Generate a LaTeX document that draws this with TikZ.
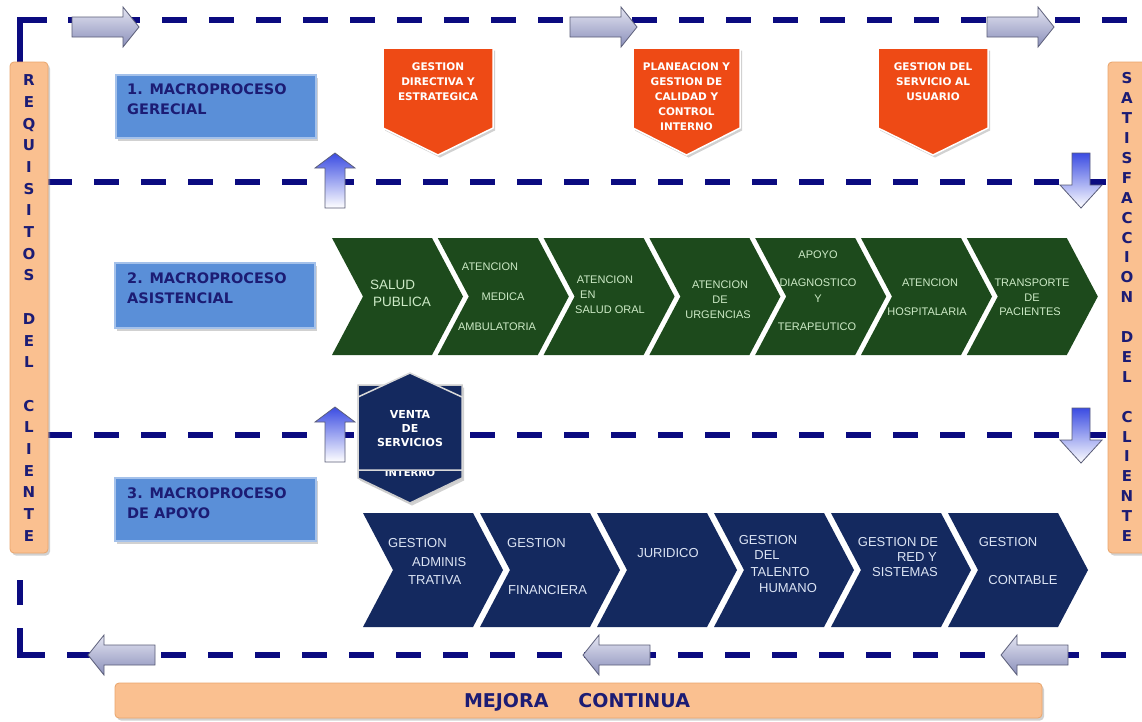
\documentclass[tikz,border=0pt]{standalone}
\usepackage{fontspec}
\setmainfont{DejaVu Sans}
\newfontfamily\chevfont{Liberation Sans}
\usetikzlibrary{shadows}
\definecolor{dashnavy}{HTML}{0B0B80}
\definecolor{peach}{HTML}{FAC090}
\definecolor{peachedge}{HTML}{E9A56C}
\definecolor{macroblue}{HTML}{5A8FD8}
\definecolor{macroedge}{HTML}{A4C1EA}
\definecolor{labelnavy}{HTML}{1C1C74}
\definecolor{orangered}{HTML}{EE4A15}
\definecolor{chevgreen}{HTML}{1D4A1C}
\definecolor{gtextc}{HTML}{CDEAC6}
\definecolor{chevnavy}{HTML}{14295F}
\definecolor{ntextc}{HTML}{DCE4F4}
\definecolor{arrtop}{HTML}{E4E5F2}
\definecolor{arrbot}{HTML}{8A8FBA}
\definecolor{arredge}{HTML}{5A5D78}
\definecolor{vblue}{HTML}{3B4CE2}
\begin{document}
\begin{tikzpicture}[x=1pt,y=-1pt,
  dashline/.style={draw=dashnavy, line width=5.5pt, dash pattern=on 25pt off 22pt},
  solidline/.style={draw=dashnavy, line width=5.5pt},
  softshadow/.style={drop shadow={shadow xshift=2pt, shadow yshift=-2.5pt, fill=black!40, opacity=0.45}},
  peachbar/.style={fill=peach, draw=peachedge, line width=0.8pt, rounded corners=4pt, softshadow},
  macrobox/.style={fill=macroblue, draw=macroedge, line width=1.5pt, softshadow},
  macrotext/.style={anchor=north west, inner sep=0pt, align=left, text=labelnavy, font=\bfseries\fontsize{14.5}{20}\selectfont},
  barletters/.style={anchor=north, inner sep=0pt, align=center, text=labelnavy},
  signpost/.style={fill=orangered, draw=white, line width=1.5pt, softshadow},
  signtext/.style={anchor=north, inner sep=0pt, align=center, text=white, font=\bfseries\fontsize{10.5}{15}\selectfont},
  gtext/.style={inner sep=0pt, text=gtextc, font=\chevfont\fontsize{11}{13}\selectfont},
  ntext/.style={inner sep=0pt, text=ntextc, font=\chevfont\fontsize{13}{15}\selectfont},
  harrow/.style={draw=arredge, line width=0.8pt, top color=arrtop, bottom color=arrbot},
  varrow/.style={draw=arredge, line width=0.8pt, top color=vblue, bottom color=white},
  rarrow/.pic={\path[harrow] (0,-10) -- (51,-10) -- (51,-20) -- (67,0) -- (51,20) -- (51,10) -- (0,10) -- cycle;},
  larrow/.pic={\path[harrow] (0,-10) -- (-51,-10) -- (-51,-20) -- (-67,0) -- (-51,20) -- (-51,10) -- (0,10) -- cycle;},
  uarrow/.pic={\path[varrow] (-10,0) -- (-10,-40) -- (-20,-40) -- (0,-55) -- (20,-40) -- (10,-40) -- (10,0) -- cycle;},
  darrow/.pic={\path[varrow] (-9,0) -- (-9,32) -- (-21,32) -- (0,55) -- (21,32) -- (9,32) -- (9,0) -- cycle;}
]
\fill[white] (0,0) rectangle (1142,721);
\useasboundingbox (0,0) rectangle (1142,721);

% ---- dashed frame lines ----
\draw[solidline] (20,62) -- (20,20) -- (47,20);
\draw[dashline] (68,20) -- (1142,20);
\draw[dashline] (47,182) -- (1108,182);
\draw[dashline] (47,435) -- (1108,435);
\draw[solidline] (20,580) -- (20,605);
\draw[solidline] (20,628) -- (20,655) -- (45,655);
\draw[dashline] (67,655) -- (1142,655);

% ---- side bars ----
\path[peachbar] (10,62) rectangle (48,553);
\node[barletters, font=\bfseries\fontsize{15}{21.7}\selectfont] (req) at (29,74.5)
  {R\\E\\Q\\U\\I\\S\\I\\T\\O\\S\\[21.7pt]D\\E\\L\\[21.7pt]C\\L\\I\\E\\N\\T\\E};
\path[peachbar] (1108,62) rectangle (1152,553);
\node[barletters, font=\bfseries\fontsize{15}{19.9}\selectfont] (sat) at (1127,72.5)
  {S\\A\\T\\I\\S\\F\\A\\C\\C\\I\\O\\N\\[19.9pt]D\\E\\L\\[19.9pt]C\\L\\I\\E\\N\\T\\E};

% ---- macroproceso boxes ----
\path[macrobox] (116,75) rectangle (316,138);
\node[macrotext] (m1) at (127,84) {1. MACROPROCESO\\GERECIAL};
\path[macrobox] (115,263) rectangle (315,328);
\node[macrotext] (m2) at (127,273) {2. MACROPROCESO\\ASISTENCIAL};
\path[macrobox] (115,478) rectangle (316,541);
\node[macrotext] (m3) at (127,488) {3. MACROPROCESO\\DE APOYO};

% ---- orange signposts ----
\path[signpost] (383,48) -- (493,48) -- (493,128) -- (438,155) -- (383,128) -- cycle;
\node[signtext] (o1) at (438,63) {GESTION\\DIRECTIVA Y\\ESTRATEGICA};
\path[signpost] (633,48) -- (740,48) -- (740,128) -- (686.5,155) -- (633,128) -- cycle;
\begin{scope}
\clip (633,48) rectangle (740,129);
\node[signtext] (o2) at (686.5,63) {PLANEACION Y\\GESTION DE\\CALIDAD Y\\CONTROL\\INTERNO};
\end{scope}
\path[signpost] (878,48) -- (988,48) -- (988,128) -- (933,155) -- (878,128) -- cycle;
\node[signtext] (o3) at (933,63) {GESTION DEL\\SERVICIO AL\\USUARIO};

% ---- green chevrons ----
\foreach \i in {0,...,6}{
  \pgfmathsetmacro\L{332+105.8*\i}
  \fill[chevgreen] (\L,238) -- ++(100,0) -- ++(31,58.5) -- ++(-31,58.5) -- ++(-100,0) -- ++(31,-58.5) -- cycle;
}
\node[gtext, anchor=west, font=\chevfont\fontsize{13.5}{15}\selectfont] (g1a) at (370,285) {SALUD};
\node[gtext, anchor=west, font=\chevfont\fontsize{13.5}{15}\selectfont] (g1b) at (373,302) {PUBLICA};
\node[gtext] (g2a) at (490,267) {ATENCION};
\node[gtext] (g2b) at (503,297) {MEDICA};
\node[gtext] (g2c) at (497,327) {AMBULATORIA};
\node[gtext] (g3a) at (605,280) {ATENCION};
\node[gtext, anchor=west] (g3b) at (580,295) {EN};
\node[gtext] (g3c) at (610,310) {SALUD ORAL};
\node[gtext] (g4a) at (720,285) {ATENCION};
\node[gtext] (g4b) at (720,300) {DE};
\node[gtext] (g4c) at (718,315) {URGENCIAS};
\node[gtext] (g5a) at (818,255) {APOYO};
\node[gtext] (g5b) at (818,283) {DIAGNOSTICO};
\node[gtext] (g5c) at (818,299) {Y};
\node[gtext] (g5d) at (817,327) {TERAPEUTICO};
\node[gtext] (g6a) at (930,283) {ATENCION};
\node[gtext] (g6b) at (927,312) {HOSPITALARIA};
\node[gtext] (g7a) at (1032,283) {TRANSPORTE};
\node[gtext] (g7b) at (1032,298) {DE};
\node[gtext] (g7c) at (1030,312) {PACIENTES};

% ---- navy chevrons ----
\foreach \i in {0,...,5}{
  \pgfmathsetmacro\L{363+117*\i}
  \fill[chevnavy] (\L,513) -- ++(110,0) -- ++(30,57) -- ++(-30,57) -- ++(-110,0) -- ++(30,-57) -- cycle;
}
\node[ntext, anchor=west] (n1a) at (388,543) {GESTION};
\node[ntext, anchor=west] (n1b) at (412,562) {ADMINIS};
\node[ntext, anchor=west] (n1c) at (408,580) {TRATIVA};
\node[ntext, anchor=west] (n2a) at (507,543) {GESTION};
\node[ntext, anchor=west] (n2b) at (508,590) {FINANCIERA};
\node[ntext] (n3a) at (668,553) {JURIDICO};
\node[ntext] (n4a) at (768,540) {GESTION};
\node[ntext] (n4b) at (767,555) {DEL};
\node[ntext] (n4c) at (780,572) {TALENTO};
\node[ntext] (n4d) at (788,588) {HUMANO};
\node[ntext] (n5a) at (898,542) {GESTION DE};
\node[ntext, anchor=east] (n5b) at (937,557) {RED Y};
\node[ntext] (n5c) at (905,572) {SISTEMAS};
\node[ntext] (n6a) at (1008,542) {GESTION};
\node[ntext] (n6b) at (1023,580) {CONTABLE};

% ---- venta de servicios ----
\path[fill=chevnavy, draw=black!20, line width=1.5pt, softshadow] (358,385) -- (462,385) -- (462,478) -- (410,503) -- (358,478) -- cycle;
\node[inner sep=0pt, text=white, font=\bfseries\fontsize{10}{12}\selectfont, anchor=base] (int) at (410,476) {INTERNO};
\path[fill=chevnavy, draw=black!15, line width=1.5pt] (410,373) -- (462,397) -- (462,470) -- (358,470) -- (358,397) -- cycle;
\node[inner sep=0pt, align=center, text=white, font=\bfseries\fontsize{11}{14}\selectfont] (venta) at (410,429) {VENTA\\DE\\SERVICIOS};

% ---- block arrows ----
\pic at (72,27) {rarrow};
\pic at (570,27) {rarrow};
\pic at (987,27) {rarrow};
\pic at (155,655) {larrow};
\pic at (650,655) {larrow};
\pic at (1068,655) {larrow};
\pic at (335,208) {uarrow};
\pic at (335,462) {uarrow};
\pic at (1081,153) {darrow};
\pic at (1081,408) {darrow};

% ---- mejora continua ----
\path[peachbar] (115,683) rectangle (1042,718);
\node[inner sep=0pt, text=labelnavy, font=\bfseries\fontsize{19}{21}\selectfont] (mejora) at (577,702) {MEJORA\hspace{30pt}CONTINUA};
\end{tikzpicture}
\end{document}
